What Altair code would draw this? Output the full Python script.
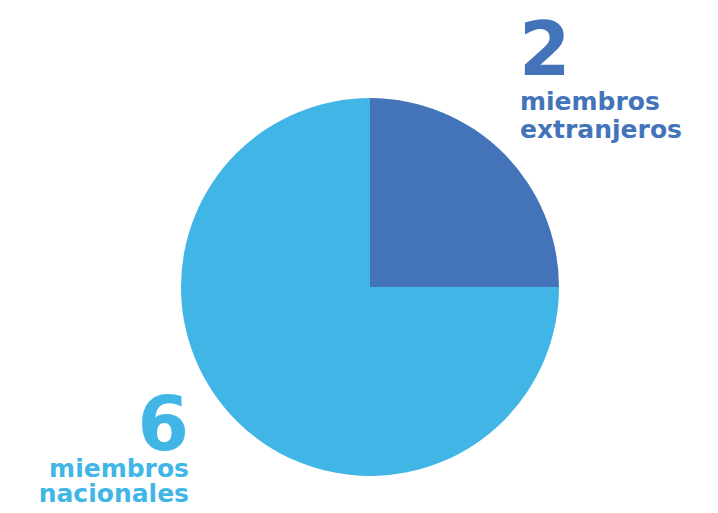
import altair as alt
import pandas as pd

categories = ["miembros extranjeros", "miembros nacionales"]
values = [2, 6]
colors = ["#4374B9", "#41B6E6"]

df = pd.DataFrame({"cat": categories, "val": values, "ord": [0, 1]})

pie = alt.Chart(df).mark_arc(stroke=None).encode(
    theta=alt.Theta("val:Q", stack=True),
    order=alt.Order("ord:Q"),
    color=alt.Color("cat:N", scale=alt.Scale(domain=categories, range=colors), legend=None),
    x=alt.value(362),
    y=alt.value(279),
    radius=alt.value(189),
)

font = "DejaVu Sans"

def label(txt, x, y, size, color, align):
    return alt.Chart(pd.DataFrame({"t": [txt]})).mark_text(
        font=font, fontWeight="bold", fontSize=size, color=color,
        align=align, baseline="alphabetic"
    ).encode(text="t:N", x=alt.value(x), y=alt.value(y))

layers = [
    pie,
    label(str(values[0]), 511, 67, 74, colors[0], "left"),
    label("miembros", 512, 102, 25, colors[0], "left"),
    label("extranjeros", 512, 130, 25, colors[0], "left"),
    label(str(values[1]), 181, 442, 74, colors[1], "right"),
    label("miembros", 181, 469, 25, colors[1], "right"),
    label("nacionales", 181, 494, 25, colors[1], "right"),
]

chart = alt.layer(*layers).properties(
    width=702, height=497, autosize=alt.AutoSizeParams(type="none"), padding=0
).configure_view(stroke=None)

chart.save("out.html", embed_options={"renderer": "svg", "actions": False})
